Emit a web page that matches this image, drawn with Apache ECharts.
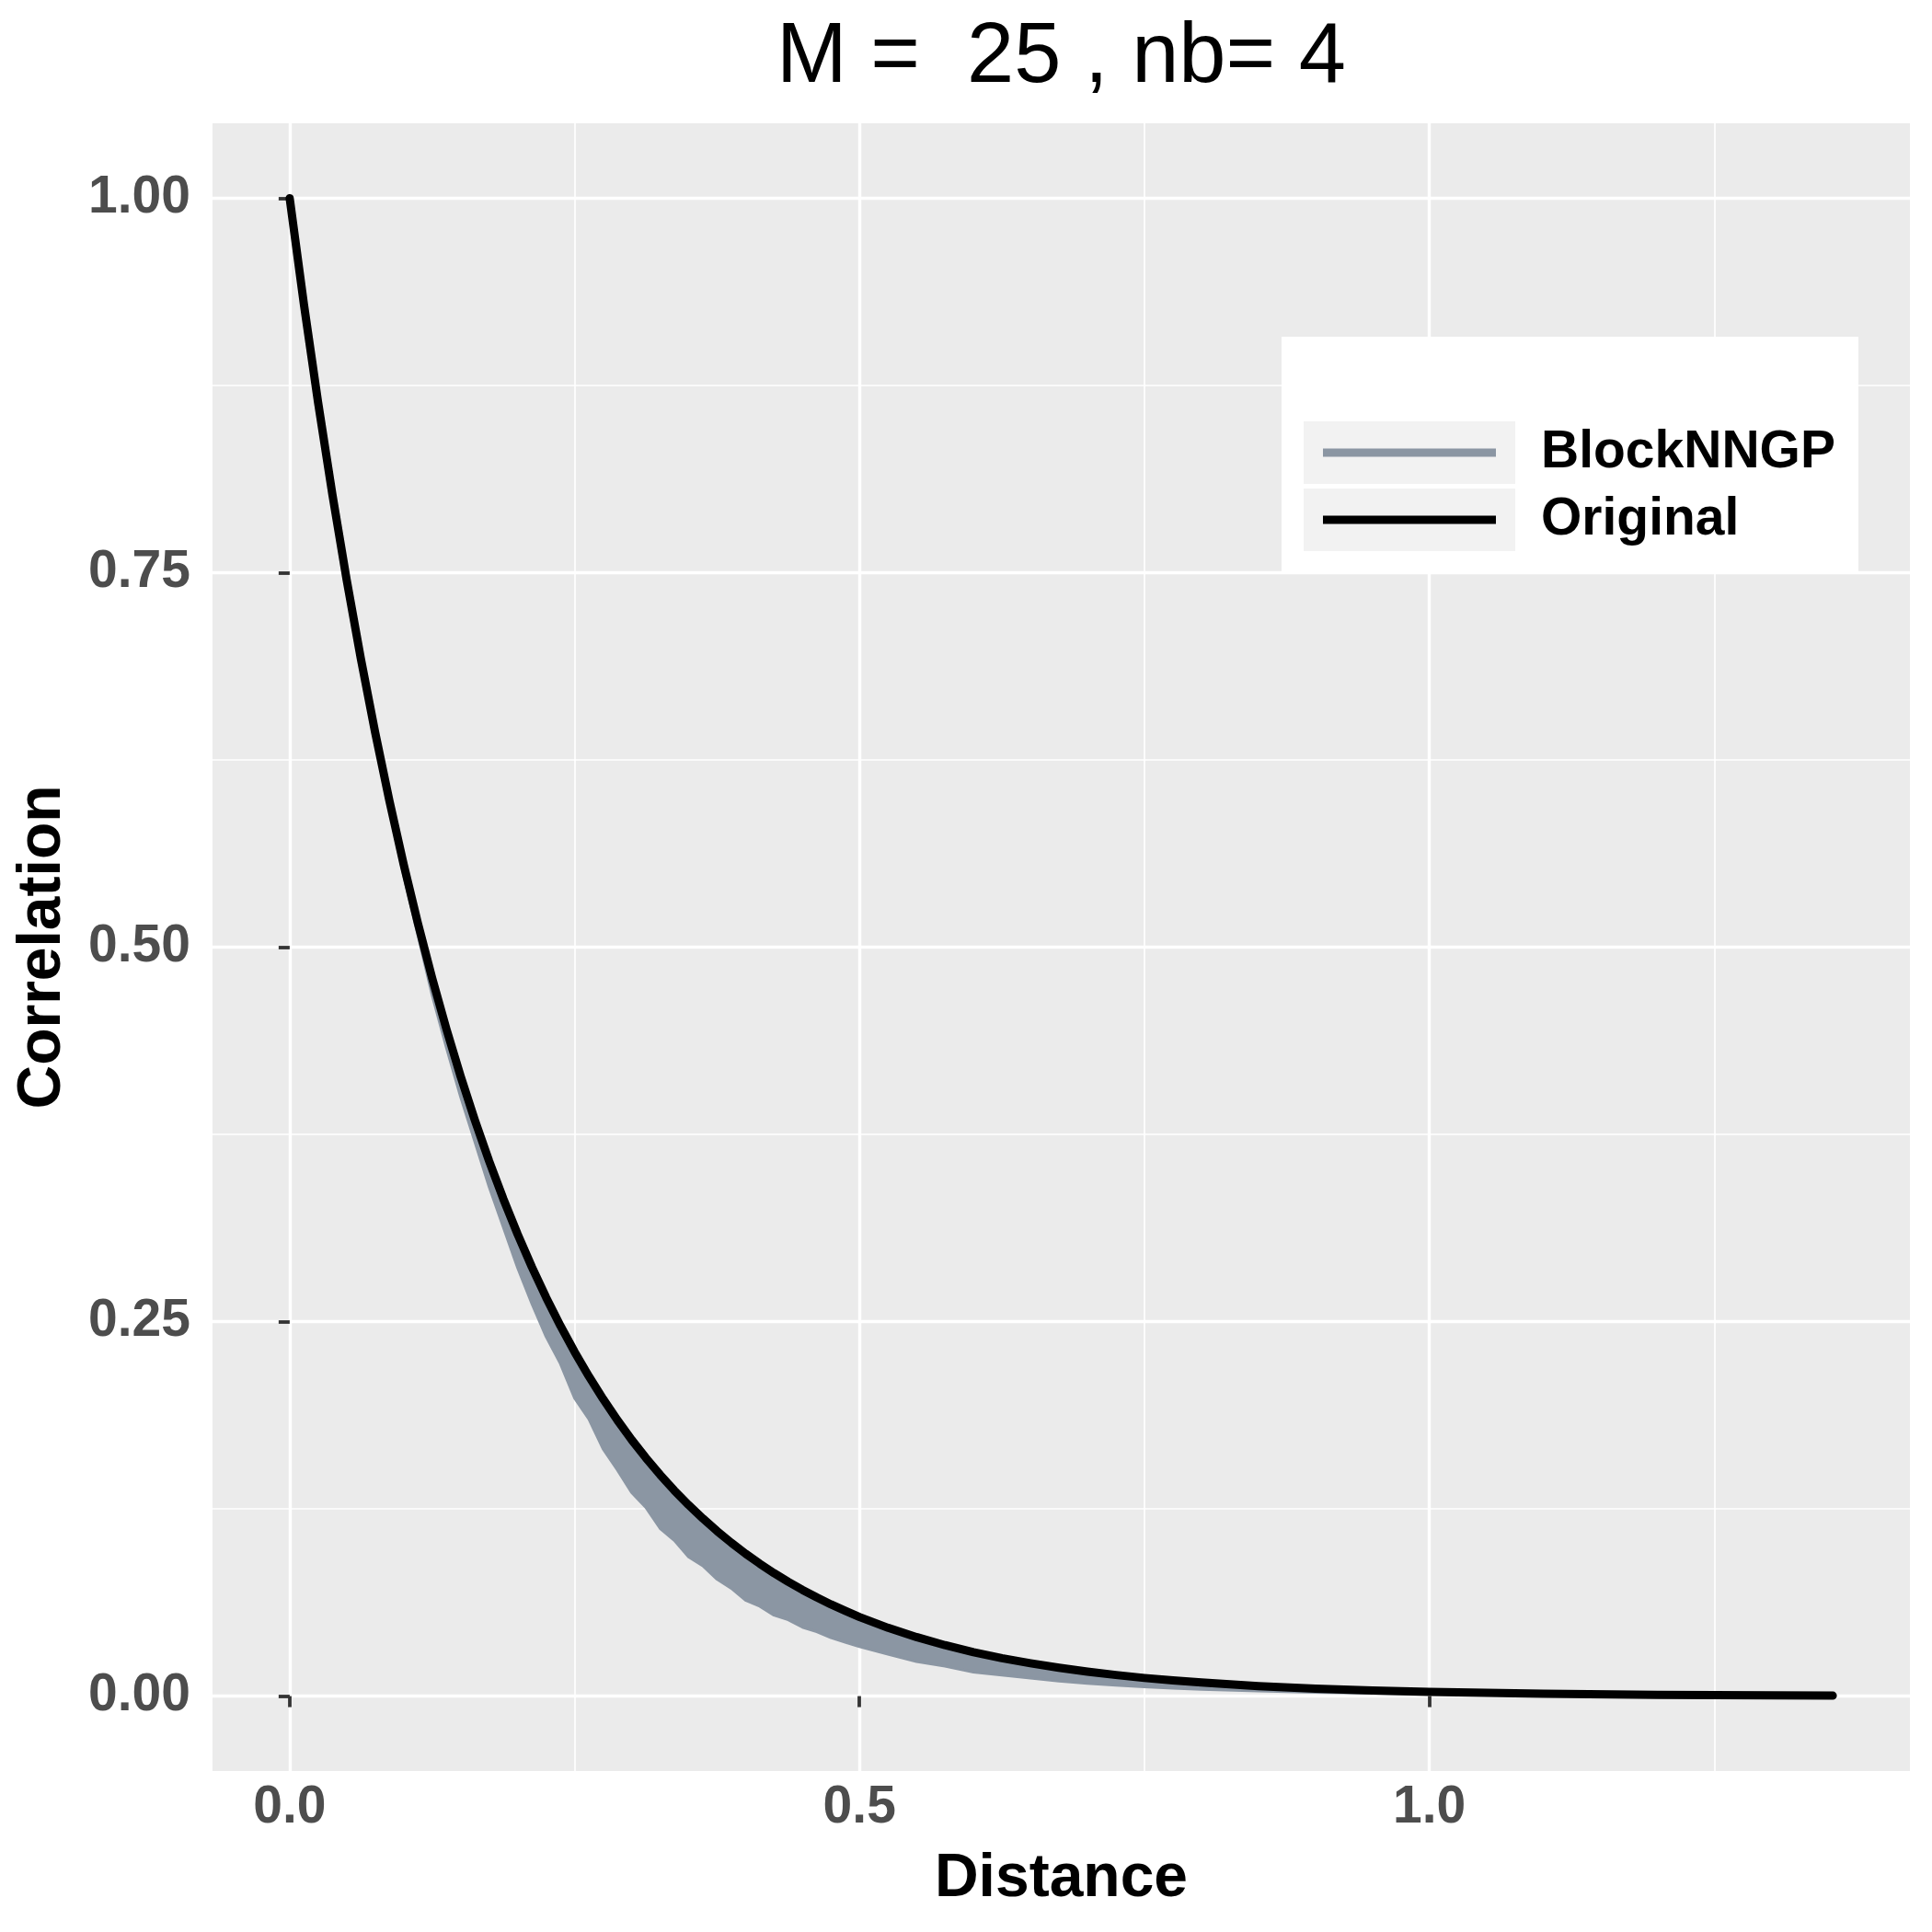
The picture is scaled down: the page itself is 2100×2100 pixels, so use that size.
<!DOCTYPE html>
<html>
<head>
<meta charset="utf-8">
<script src="https://cdn.jsdelivr.net/npm/echarts@6/dist/echarts.min.js"></script>
<style>
html,body{margin:0;padding:0;background:#fff;}
#chart{width:2100px;height:2100px;}
</style>
</head>
<body>
<div id="chart"></div>
<script>
// ---- data ----
const titleText = 'M =  25 , nb= 4';
const xName = 'Distance';
const yName = 'Correlation';
const seriesNames = ['BlockNNGP', 'Original'];

const xMajor = [0, 0.5, 1.0];
const xMinor = [0.25, 0.75, 1.25];
const yMajor = [0, 0.25, 0.5, 0.75, 1.0];
const yMinor = [0.125, 0.375, 0.625, 0.875];
const xTickLabels = ['0.0', '0.5', '1.0'];
const yTickLabels = ['0.00', '0.25', '0.50', '0.75', '1.00'];

const distance = [0, 0.0125, 0.025, 0.0375, 0.05, 0.0625, 0.075, 0.0875, 0.1, 0.1125, 0.125, 0.1375, 0.15, 0.1625, 0.175, 0.1875, 0.2, 0.2125, 0.225, 0.2375, 0.25, 0.2625, 0.275, 0.2875, 0.3, 0.3125, 0.325, 0.3375, 0.35, 0.3625, 0.375, 0.3875, 0.4, 0.4125, 0.425, 0.4375, 0.45, 0.4625, 0.475, 0.4875, 0.5,
  0.525, 0.55, 0.575, 0.6, 0.625, 0.65, 0.675, 0.7, 0.725, 0.75, 0.775, 0.8,
  0.85, 0.9, 0.95, 1.0, 1.1, 1.2, 1.3, 1.354];

const original = [1.0000, 0.9291, 0.8633, 0.8021, 0.7452, 0.6924, 0.6433, 0.5977, 0.5553, 0.5160, 0.4794, 0.4454, 0.4138, 0.3845, 0.3572, 0.3319, 0.3084, 0.2865, 0.2662, 0.2473, 0.2298, 0.2135, 0.1984, 0.1843, 0.1712, 0.1591, 0.1478, 0.1373, 0.1276, 0.1186, 0.1102, 0.1024, 0.0951, 0.0884, 0.0821, 0.0763, 0.0709, 0.0659, 0.0612, 0.0569, 0.0528,
  0.0456, 0.0394, 0.0340, 0.0293, 0.0253, 0.0219, 0.0189, 0.0163, 0.0141, 0.0121, 0.0105, 0.0091,
  0.0067, 0.0050, 0.0037, 0.0028, 0.0016, 0.0009, 0.0005, 0.0003];

// BlockNNGP band: ragged lower edge; its upper edge lies on the original curve
const blockLower = [1.000, 0.929, 0.861, 0.799, 0.741, 0.688, 0.638, 0.592, 0.548, 0.508, 0.468, 0.433, 0.400, 0.370, 0.340, 0.313, 0.286, 0.262, 0.240, 0.222, 0.199, 0.185, 0.165, 0.151, 0.136, 0.126, 0.112, 0.104, 0.093, 0.087, 0.078, 0.072, 0.064, 0.060, 0.054, 0.051, 0.046, 0.043, 0.039, 0.036, 0.033,
  0.028, 0.023, 0.020, 0.016, 0.014, 0.012, 0.010, 0.0085, 0.0073, 0.0062, 0.0053, 0.0045,
  0.0034, 0.0025, 0.0019, 0.0014, 0.0008, 0.0005, 0.0003, 0.0002];
const blockUpper = original;

// ---- build ----
const xDataMax = distance[distance.length - 1];
const xMin = -0.05 * xDataMax, xMax = 1.05 * xDataMax;
const yMin = -0.05, yMax = 1.05;

const FONT = 'Liberation Sans';
const GREY = '#8B96A3';

const origData = distance.map((d, i) => [d, original[i]]);
const bandItems = distance.map((d, i) => [d, blockLower[i], blockUpper[i]]);

const chart = echarts.init(document.getElementById('chart'), null, {renderer: 'canvas'});

const gridL = 231, gridT = 134, gridW = 1845, gridH = 1791;

function renderBand(params, api) {
  if (params.dataIndex !== 0) return null;
  const pts = [];
  for (let i = 0; i < distance.length; i++) pts.push(api.coord([distance[i], blockUpper[i]]));
  for (let i = distance.length - 1; i >= 0; i--) pts.push(api.coord([distance[i], blockLower[i]]));
  return {
    type: 'polygon',
    shape: {points: pts},
    style: {fill: GREY, stroke: GREY, lineWidth: 3, lineJoin: 'round'}
  };
}

const option = {
  backgroundColor: '#ffffff',
  animation: false,
  title: {
    text: titleText,
    left: gridL + gridW / 2,
    textAlign: 'center',
    top: 18,
    padding: 0,
    textStyle: {fontFamily: FONT, fontSize: 92, fontWeight: 'normal', color: '#000000'}
  },
  legend: {show: false, data: seriesNames},
  grid: {
    left: gridL, top: gridT, width: gridW, height: gridH,
    show: true, backgroundColor: '#EBEBEB', borderWidth: 0
  },
  xAxis: [
    {
      type: 'value', min: xMin, max: xMax,
      name: xName, nameLocation: 'middle', nameGap: 85,
      nameTextStyle: {fontFamily: FONT, fontSize: 66, fontWeight: 'bold', color: '#000000'},
      axisLine: {show: false},
      axisTick: {show: true, length: 12, customValues: xMajor, lineStyle: {color: '#333333', width: 3.8}},
      axisLabel: {
        show: true, customValues: xMajor, margin: 12,
        fontFamily: FONT, fontSize: 57, fontWeight: 'bold', color: '#4D4D4D',
        formatter: v => xTickLabels[xMajor.findIndex(m => Math.abs(m - v) < 1e-9)] ?? ''
      },
      splitLine: {show: true, lineStyle: {color: '#ffffff', width: 3.4}}
    },
    {
      type: 'value', min: xMin, max: xMax, position: 'bottom',
      axisLine: {show: false},
      axisTick: {show: false, customValues: xMinor},
      axisLabel: {show: false, customValues: xMinor},
      splitLine: {show: true, lineStyle: {color: '#ffffff', width: 1.7}}
    }
  ],
  yAxis: [
    {
      type: 'value', min: yMin, max: yMax,
      name: yName, nameLocation: 'middle', nameGap: 151, nameRotate: 90,
      nameTextStyle: {fontFamily: FONT, fontSize: 66, fontWeight: 'bold', color: '#000000'},
      axisLine: {show: false},
      axisTick: {show: true, length: 12, customValues: yMajor, lineStyle: {color: '#333333', width: 3.8}},
      axisLabel: {
        show: true, customValues: yMajor, margin: 24,
        fontFamily: FONT, fontSize: 57, fontWeight: 'bold', color: '#4D4D4D',
        formatter: v => yTickLabels[yMajor.findIndex(m => Math.abs(m - v) < 1e-9)] ?? ''
      },
      splitLine: {show: true, lineStyle: {color: '#ffffff', width: 3.4}}
    },
    {
      type: 'value', min: yMin, max: yMax, position: 'left',
      axisLine: {show: false},
      axisTick: {show: false, customValues: yMinor},
      axisLabel: {show: false, customValues: yMinor},
      splitLine: {show: true, lineStyle: {color: '#ffffff', width: 1.7}}
    }
  ],
  series: [
    {
      name: seriesNames[0], type: 'custom', renderItem: renderBand,
      xAxisIndex: 0, yAxisIndex: 0,
      data: bandItems,
      encode: {x: 0, y: [1, 2]},
      z: 2, silent: true
    },
    {
      name: seriesNames[1], type: 'line', data: origData,
      xAxisIndex: 0, yAxisIndex: 0,
      symbol: 'none', lineStyle: {color: '#000000', width: 9, join: 'round', cap: 'round'}, z: 3
    }
  ],
  graphic: [
    {type: 'rect', left: 1393, top: 366, shape: {width: 627, height: 258}, style: {fill: '#ffffff'}, z: 10},
    {type: 'rect', left: 1417, top: 458, shape: {width: 230, height: 68}, style: {fill: '#F2F2F2'}, z: 11},
    {type: 'rect', left: 1417, top: 531, shape: {width: 230, height: 68}, style: {fill: '#F2F2F2'}, z: 11},
    {type: 'line', shape: {x1: 1438, y1: 492, x2: 1626, y2: 492}, style: {stroke: GREY, lineWidth: 9}, z: 12},
    {type: 'line', shape: {x1: 1438, y1: 565, x2: 1626, y2: 565}, style: {stroke: '#000000', lineWidth: 9}, z: 12},
    {type: 'text', x: 1675, y: 492, style: {text: seriesNames[0], font: 'bold 57px "Liberation Sans"', fill: '#000000', verticalAlign: 'middle', align: 'left'}, z: 12},
    {type: 'text', x: 1675, y: 565, style: {text: seriesNames[1], font: 'bold 57px "Liberation Sans"', fill: '#000000', verticalAlign: 'middle', align: 'left'}, z: 12}
  ]
};
chart.setOption(option);
</script>
</body>
</html>
